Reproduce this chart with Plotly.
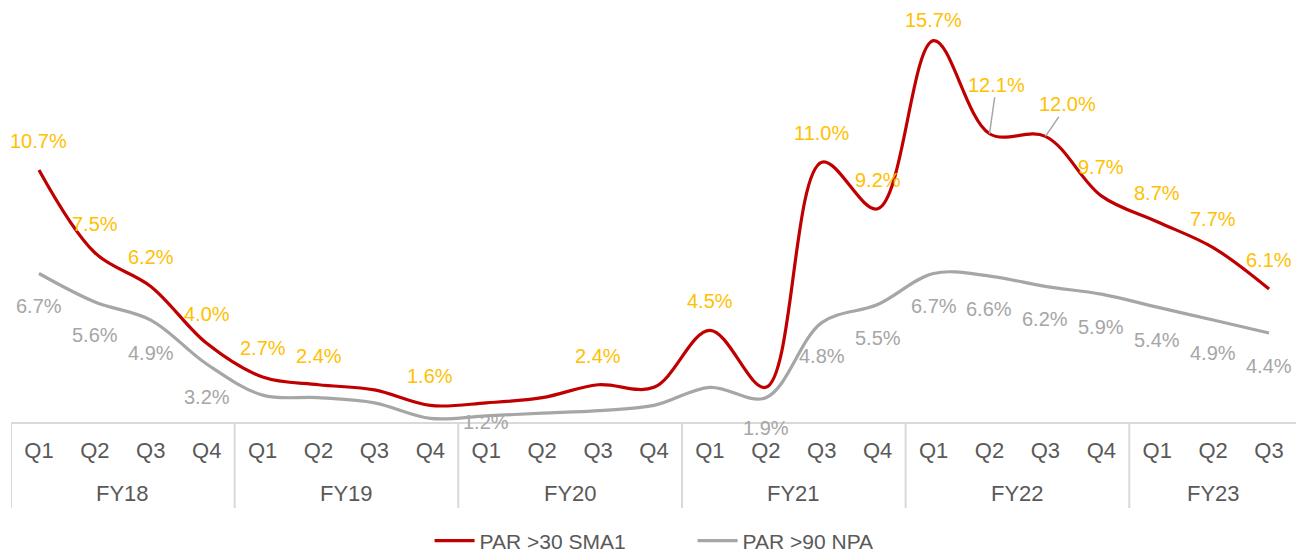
import plotly.graph_objects as go

years = ["FY18", "FY19", "FY20", "FY21", "FY22", "FY23"]
quarters_per_year = [4, 4, 4, 4, 4, 3]
quarter_labels = ["Q1", "Q2", "Q3", "Q4", "Q1", "Q2", "Q3", "Q4", "Q1", "Q2", "Q3", "Q4",
                  "Q1", "Q2", "Q3", "Q4", "Q1", "Q2", "Q3", "Q4", "Q1", "Q2", "Q3"]

par30 = [10.7, 7.5, 6.2, 4.0, 2.7, 2.4, 2.2, 1.6, 1.7, 1.9, 2.4, 2.3,
         4.5, 2.3, 11.0, 9.2, 15.7, 12.1, 12.0, 9.7, 8.7, 7.7, 6.1]
par90 = [6.7, 5.6, 4.9, 3.2, 2.0, 1.9, 1.7, 1.1, 1.2, 1.3, 1.4, 1.6,
         2.3, 1.9, 4.8, 5.5, 6.7, 6.6, 6.2, 5.9, 5.4, 4.9, 4.4]
par30_labeled = [1, 1, 1, 1, 1, 1, 0, 1, 0, 0, 1, 0, 1, 0, 1, 1, 1, 1, 1, 1, 1, 1, 1]
par90_labeled = [1, 1, 1, 1, 0, 0, 0, 0, 1, 0, 0, 0, 0, 1, 1, 1, 1, 1, 1, 1, 1, 1, 1]

RED = "#C00000"
GRAY = "#A6A6A6"
LABEL_RED = "#FFC000"
LABEL_GRAY = "#A6A6A6"
AXIS_TXT = "#595959"
BOX = "#D9D9D9"
FONT = "Liberation Sans, Arial, sans-serif"

x = list(range(len(quarter_labels)))

fig = go.Figure()
fig.add_trace(go.Scatter(x=x, y=par30, mode="lines", name="PAR >30 SMA1",
                         line=dict(color=RED, width=3.2, shape="spline", smoothing=1.0),
                         cliponaxis=False, hoverinfo="skip"))
fig.add_trace(go.Scatter(x=x, y=par90, mode="lines", name="PAR >90 NPA",
                         line=dict(color=GRAY, width=3.2, shape="spline", smoothing=1.0),
                         cliponaxis=False, hoverinfo="skip"))

annotations = []
# label placement tweaks (style, not data)
red_shift = {16: 21}
gray_shift = {8: -6, 13: -30}
leaders = {17: (7, -49), 18: (22, -32)}

for i, (v, show) in enumerate(zip(par30, par30_labeled)):
    if not show:
        continue
    txt = f"{v:.1f}%"
    if i in leaders:
        ax, ay = leaders[i]
        annotations.append(dict(x=i, y=v, xref="x", yref="y", text=txt, showarrow=True,
                                arrowhead=0, arrowwidth=1.5, arrowcolor=GRAY, ax=ax, ay=ay,
                                standoff=0, font=dict(size=20, color=LABEL_RED, family=FONT)))
    else:
        annotations.append(dict(x=i, y=v, xref="x", yref="y", text=txt, showarrow=False,
                                yshift=red_shift.get(i, 29), yanchor="middle",
                                font=dict(size=20, color=LABEL_RED, family=FONT)))

for i, (v, show) in enumerate(zip(par90, par90_labeled)):
    if not show:
        continue
    annotations.append(dict(x=i, y=v, xref="x", yref="y", text=f"{v:.1f}%", showarrow=False,
                            yshift=gray_shift.get(i, -33), yanchor="middle",
                            font=dict(size=20, color=LABEL_GRAY, family=FONT)))

# Fiscal-year group labels and box dividers
shapes = []
start = 0
boundaries = [-0.5]
for yname, n in zip(years, quarters_per_year):
    center = start + (n - 1) / 2
    annotations.append(dict(x=center, y=-0.1715, xref="x", yref="paper", text=yname,
                            showarrow=False, yanchor="middle",
                            font=dict(size=22, color=AXIS_TXT, family=FONT)))
    start += n
    boundaries.append(start - 0.5)
for b in boundaries:
    shapes.append(dict(type="line", xref="x", yref="paper", x0=b, x1=b, y0=0, y1=-0.2077,
                       line=dict(color=BOX, width=2)))

fig.update_layout(
    width=1296, height=547, autosize=False,
    margin=dict(l=3, r=7, t=0, b=133, autoexpand=False),
    paper_bgcolor="white", plot_bgcolor="white",
    font=dict(family=FONT, color=AXIS_TXT),
    showlegend=True,
    legend=dict(orientation="h", x=0.53, xanchor="center", y=-0.2874, yanchor="middle",
                font=dict(size=21, color=AXIS_TXT, family=FONT), itemwidth=40,
                entrywidth=208, bgcolor="rgba(0,0,0,0)"),
    annotations=annotations,
    shapes=shapes,
)
fig.update_xaxes(range=[-0.5, len(x) - 0.5], tickmode="array", tickvals=x, ticktext=quarter_labels,
                 showgrid=False, zeroline=False, showline=True, linecolor=BOX, linewidth=2,
                 ticks="outside", ticklen=8, tickcolor="rgba(0,0,0,0)",
                 tickfont=dict(size=22, color=AXIS_TXT, family=FONT), automargin=False,
                 fixedrange=True)
fig.update_yaxes(range=[0.96, 16.96], showgrid=False, zeroline=False, showline=False,
                 showticklabels=False, ticks="", automargin=False, fixedrange=True)

fig.write_html("out.html")
